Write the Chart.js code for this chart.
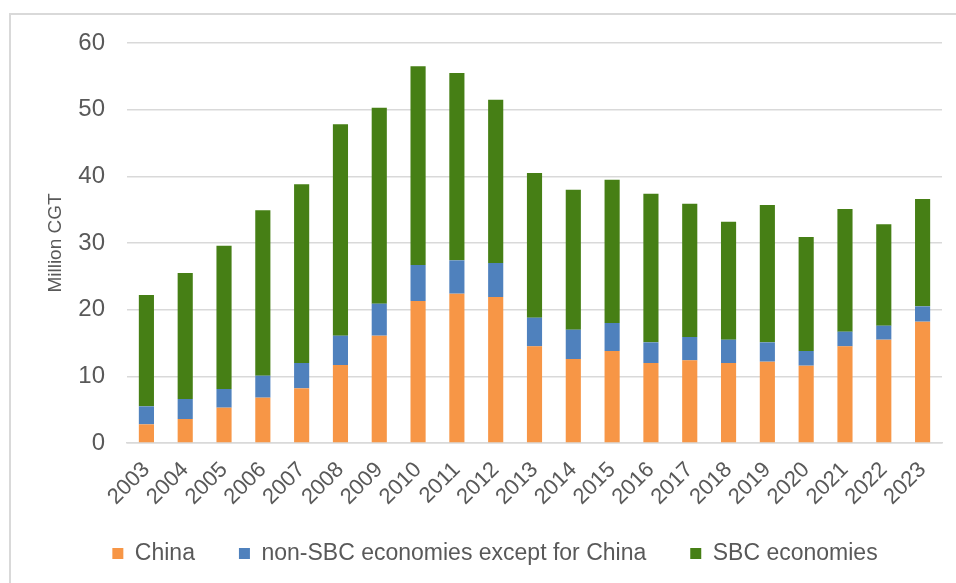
<!DOCTYPE html>
<html>
<head>
<meta charset="utf-8">
<script src="https://cdn.jsdelivr.net/npm/chart.js@4/dist/chart.umd.min.js"></script>
<style>
  html, body { margin: 0; padding: 0; background: #ffffff; }
  #frame { position: absolute; left: 9px; top: 13px; width: 960px; height: 600px;
           border-left: 2px solid #d9d9d9; border-top: 2px solid #d9d9d9; }
  #wrap { position: absolute; left: 0; top: 0; width: 956px; height: 583px; }
</style>
</head>
<body>
<div id="frame"></div>
<div id="wrap"><canvas id="c" width="956" height="583"></canvas></div>
<script>
const years = ['2003','2004','2005','2006','2007','2008','2009','2010','2011','2012','2013',
               '2014','2015','2016','2017','2018','2019','2020','2021','2022','2023'];
const china  = [2.8, 3.6, 5.3, 6.8, 8.2, 11.7, 16.1, 21.3, 22.4, 21.9, 14.5,
                12.6, 13.8, 12.0, 12.4, 12.0, 12.2, 11.6, 14.5, 15.5, 18.2];
const nonSBC = [2.7, 3.0, 2.8, 3.3, 3.8, 4.4, 4.8, 5.4, 5.0, 5.1, 4.3,
                4.4, 4.2, 3.1, 3.5, 3.5, 2.9, 2.2, 2.2, 2.1, 2.3];
const sbc    = [16.7, 18.9, 21.5, 24.8, 26.8, 31.7, 29.4, 29.8, 28.1, 24.5, 21.7,
                21.0, 21.5, 22.3, 20.0, 17.7, 20.6, 17.1, 18.4, 15.2, 16.1];
const seriesNames = ['China', 'non-SBC economies except for China', 'SBC economies'];
const yTicks = [0, 10, 20, 30, 40, 50, 60];
const yTitle = 'Million CGT';

const txt = '#595959';
const font = 'Liberation Sans, Arial, sans-serif';

new Chart(document.getElementById('c'), {
  type: 'bar',
  data: {
    labels: years,
    datasets: [
      { label: seriesNames[0], data: china,  backgroundColor: '#F79646' },
      { label: seriesNames[1], data: nonSBC, backgroundColor: '#4F81BD' },
      { label: seriesNames[2], data: sbc,    backgroundColor: '#467F15' }
    ]
  },
  options: {
    responsive: false,
    animation: false,
    layout: { padding: { left: 48, right: 14, top: 43, bottom: 8 } },
    datasets: { bar: { categoryPercentage: 1, barPercentage: 0.39 } },
    plugins: {
      tooltip: { enabled: false },
      legend: {
        position: 'bottom',
        labels: {
          color: txt, font: { family: font, size: 23 },
          boxWidth: 11, boxHeight: 11, padding: 44
        }
      }
    },
    scales: {
      x: {
        stacked: true,
        grid: { display: false, drawTicks: false },
        border: { display: true, color: '#d9d9d9', width: 1.5 },
        ticks: { color: txt, font: { family: font, size: 22 }, maxRotation: 45, minRotation: 45,
                 autoSkip: false, padding: 14 },
        afterFit: (s) => { s.height = 55; s._computeLabelArea = () => undefined; }
      },
      y: {
        stacked: true,
        min: 0, max: 60,
        afterBuildTicks: (s) => { s.ticks = yTicks.map(v => ({ value: v })); },
        grid: { color: '#d9d9d9', lineWidth: 1.5, drawTicks: false },
        border: { display: false },
        ticks: { color: txt, font: { family: font, size: 24 }, padding: 22 },
        title: { display: true, text: yTitle, color: txt, font: { family: font, size: 19 },
                 padding: { top: -4, bottom: 0 } },
        afterFit: (s) => { s.width = 79; }
      }
    }
  }
});
</script>
</body>
</html>
